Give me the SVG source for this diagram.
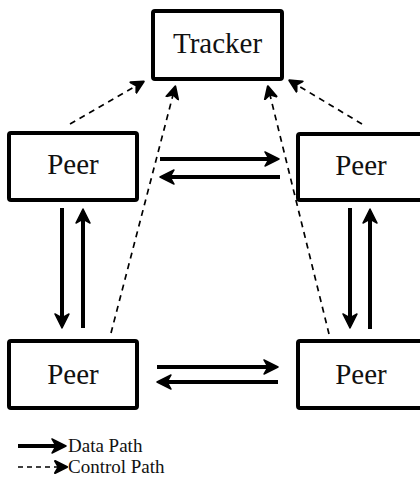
<svg xmlns="http://www.w3.org/2000/svg" width="420" height="477" viewBox="0 0 420 477">
<style>
.box{fill:#fff;stroke:#000;stroke-width:4}
.lbl{font-size:29px;fill:#111;text-anchor:middle}
.leg{font-size:19px;fill:#111}
.data{stroke:#000;stroke-width:4;fill:none;marker-end:url(#ah)}
.ctrl{stroke:#000;stroke-width:1.7;stroke-dasharray:6 5;fill:none;marker-end:url(#ahs)}
</style>
<defs>
<marker id="ah" markerUnits="userSpaceOnUse" viewBox="-1 -8 17 16" markerWidth="17" markerHeight="16" refX="4" refY="0" orient="auto">
<path d="M0,-7 L14,0 L0,7 L4,0 Z" fill="#000" stroke="#000" stroke-width="1.5" stroke-linejoin="round"/>
</marker>
<marker id="ahs" markerUnits="userSpaceOnUse" viewBox="-1 -8 15 16" markerWidth="15" markerHeight="16" refX="3" refY="0" orient="auto">
<path d="M0,-6 L12,0 L0,6 L3.5,0 Z" fill="#000" stroke="#000" stroke-width="2" stroke-linejoin="round"/>
</marker>
</defs>
<rect width="420" height="477" fill="#fff"/>
<g id="connectors">
<line class="data" x1="160" y1="159" x2="269" y2="159"/>
<line class="data" x1="280" y1="177" x2="170" y2="177"/>
<line class="data" x1="157" y1="367" x2="268" y2="367"/>
<line class="data" x1="278" y1="382" x2="167" y2="382"/>
<line class="data" x1="62" y1="208" x2="62" y2="318"/>
<line class="data" x1="83" y1="328" x2="83" y2="219"/>
<line class="data" x1="350" y1="208" x2="350" y2="318"/>
<line class="data" x1="370" y1="329" x2="370" y2="219"/>
<line class="ctrl" x1="70" y1="124" x2="136" y2="86"/>
<line class="ctrl" x1="362" y1="124" x2="297" y2="85"/>
<line class="ctrl" x1="111" y1="333" x2="173" y2="95"/>
<line class="ctrl" x1="329" y1="334" x2="270" y2="95"/>
</g>
<g id="tracker">
<rect class="box" x="153" y="11" width="129" height="68" rx="2"/>
<text class="lbl" x="217.5" y="53" font-family="'Liberation Serif', 'Times New Roman', Tinos, 'DejaVu Serif', serif">Tracker</text>
</g>
<g id="peer-top-left">
<rect class="box" x="9" y="133" width="128" height="67" rx="2"/>
<text class="lbl" x="73" y="174" font-family="'Liberation Serif', 'Times New Roman', Tinos, 'DejaVu Serif', serif">Peer</text>
</g>
<g id="peer-top-right">
<rect class="box" x="298" y="134" width="130" height="66" rx="2"/>
<text class="lbl" x="361" y="175" font-family="'Liberation Serif', 'Times New Roman', Tinos, 'DejaVu Serif', serif">Peer</text>
</g>
<g id="peer-bottom-left">
<rect class="box" x="9" y="341" width="128" height="67" rx="2"/>
<text class="lbl" x="73" y="384" font-family="'Liberation Serif', 'Times New Roman', Tinos, 'DejaVu Serif', serif">Peer</text>
</g>
<g id="peer-bottom-right">
<rect class="box" x="298" y="341" width="130" height="67" rx="2"/>
<text class="lbl" x="361" y="384" font-family="'Liberation Serif', 'Times New Roman', Tinos, 'DejaVu Serif', serif">Peer</text>
</g>
<g id="legend">
<line class="data" x1="18" y1="446" x2="56" y2="446"/>
<text class="leg" x="68" y="452" font-family="'Liberation Serif', 'Times New Roman', Tinos, 'DejaVu Serif', serif">Data Path</text>
<line stroke="#000" stroke-width="1.7" stroke-dasharray="5 4" x1="18" y1="467" x2="58" y2="467" marker-end="url(#ahs)"/>
<text class="leg" x="68" y="473" font-family="'Liberation Serif', 'Times New Roman', Tinos, 'DejaVu Serif', serif">Control Path</text>
</g>
</svg>
